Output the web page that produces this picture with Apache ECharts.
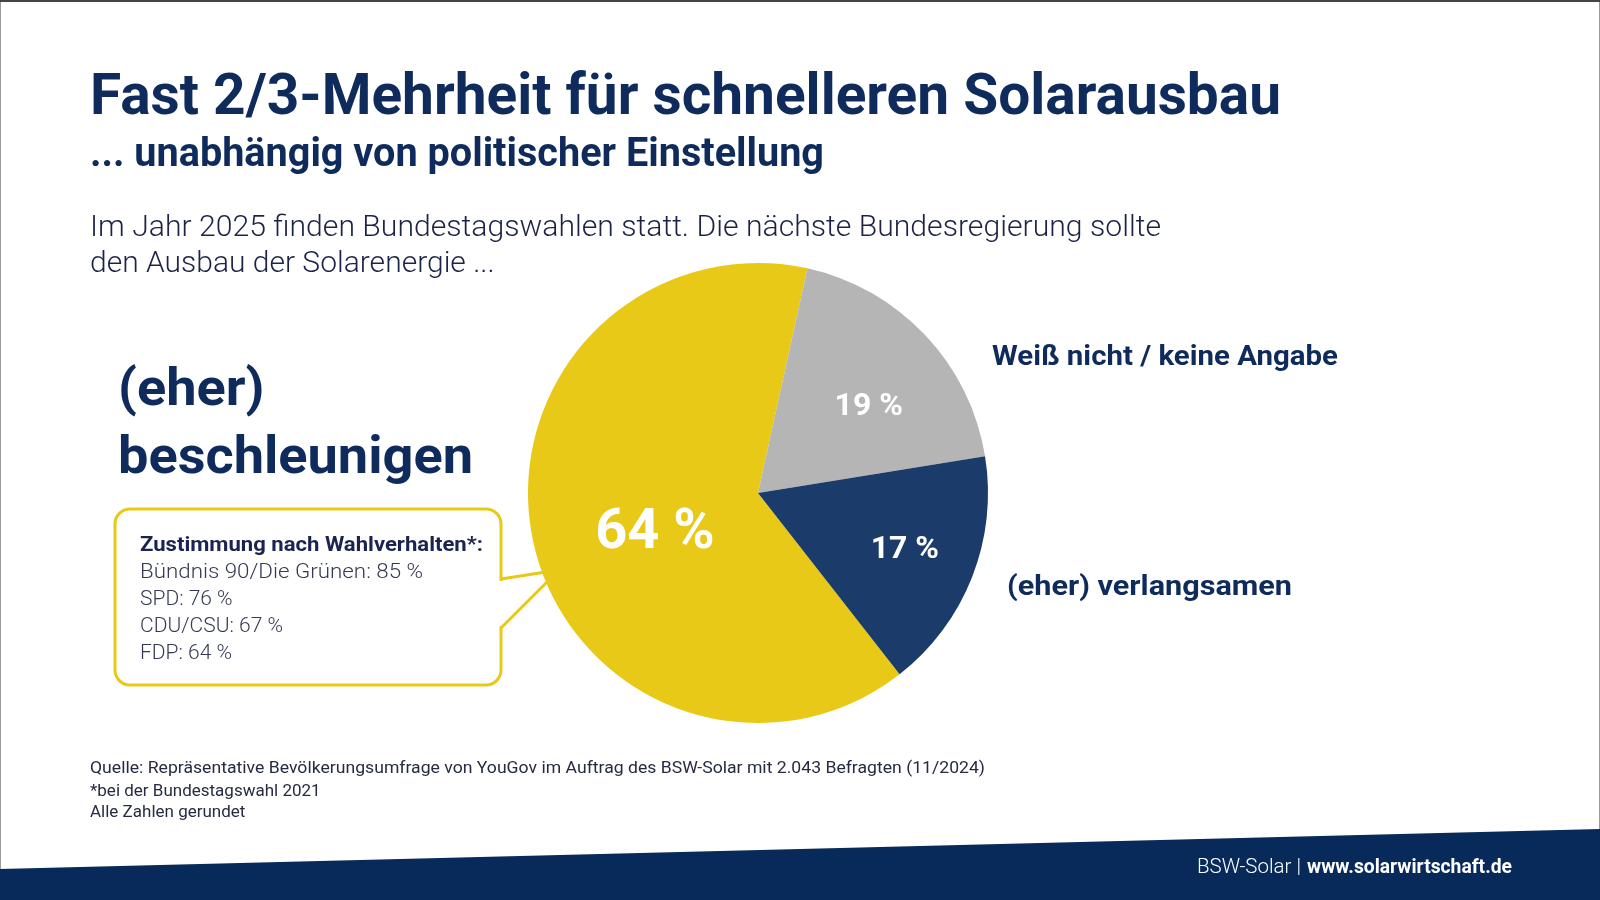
<!DOCTYPE html>
<html>
<head>
<meta charset="utf-8">
<title>Fast 2/3-Mehrheit für schnelleren Solarausbau</title>
<script src="https://cdn.jsdelivr.net/npm/echarts@6/dist/echarts.min.js"></script>
<style>
html, body { margin: 0; padding: 0; background: #fff; }
#main { width: 1600px; height: 900px; }
</style>
</head>
<body>
<div id="main"></div>
<script>
// Daten
var categories = ['(eher) beschleunigen', 'Weiß nicht / keine Angabe', '(eher) verlangsamen'];
var values = [64, 19, 17];
var parties = ['Bündnis 90/Die Grünen', 'SPD', 'CDU/CSU', 'FDP'];
var partyValues = [85, 76, 67, 64];

var NAVY = '#0f2b5c';
var FONT = 'Roboto';
var colors = ['#e8c917', '#b5b5b5', '#1b3c6b'];

// Text auf eine Zielbreite bringen (DIN ist schmaler als Roboto)
var ctx = document.createElement('canvas').getContext('2d');
function fit(text, size, weight, width) {
    ctx.font = weight + ' ' + size + 'px ' + FONT;
    var w = 0;
    text.split('\n').forEach(function (t) { w = Math.max(w, ctx.measureText(t).width); });
    return width / w;
}
function txt(x, y, text, size, weight, color, width, extra) {
    var style = {
        text: text, fill: color, fontSize: size, fontWeight: weight, fontFamily: FONT,
        textAlign: 'left', align: 'left', textVerticalAlign: 'middle', verticalAlign: 'middle'
    };
    if (extra) for (var k in extra) style[k] = extra[k];
    return { type: 'text', x: x, y: y, scaleX: width ? fit(text, size, weight, width) : 1, style: style };
}

var myChart = echarts.init(document.getElementById('main'));

var labelOffsets = [[12, 15], [25, -5], [37, 14]];
var labelSizes = [56, 32, 32];

var option = {
    backgroundColor: '#fff',
    animation: false,
    textStyle: { fontFamily: FONT },
    series: [{
        type: 'pie',
        center: [758, 493],
        radius: [0, 230],
        startAngle: -52,
        clockwise: true,
        silent: true,
        itemStyle: { borderWidth: 0 },
        label: {
            position: 'inside',
            formatter: '{c} %',
            color: '#fff',
            fontWeight: 'bold',
            fontFamily: FONT
        },
        labelLine: { show: false },
        emphasis: { disabled: true },
        data: categories.map(function (c, i) {
            return {
                name: c,
                value: values[i],
                itemStyle: { color: colors[i] },
                label: { fontSize: labelSizes[i], offset: labelOffsets[i] }
            };
        })
    }],
    graphic: [
        // Rahmen
        { type: 'rect', shape: { x: 0.5, y: 0.5, width: 1599, height: 899 }, style: { fill: null, stroke: '#9a9a9a', lineWidth: 1 } },
        { type: 'line', shape: { x1: 0, y1: 1, x2: 1600, y2: 1 }, style: { stroke: '#444', lineWidth: 2 } },
        // Fußband
        { type: 'polygon', shape: { points: [[0, 869], [1600, 829], [1600, 900], [0, 900]] }, style: { fill: '#072a5a' } },

        txt(90, 99, 'Fast 2/3-Mehrheit für schnelleren Solarausbau', 58, 'bold', NAVY, 1191),
        txt(90, 156, '... unabhängig von politischer Einstellung', 40, 'bold', NAVY, 734),
        txt(90, 228, 'Im Jahr 2025 finden Bundestagswahlen statt. Die nächste Bundesregierung sollte', 30, 300, '#1c2446', 1071),
        txt(90, 264, 'den Ausbau der Solarenergie ...', 30, 300, '#1c2446', 0),

        // Kategorien
        txt(118, 426, categories[0].replace(' ', '\n'), 52, 'bold', NAVY, 355, { lineHeight: 68 }),
        txt(992, 358, categories[1], 28, 'bold', NAVY, 346),
        txt(1007, 588, categories[2], 28, 'bold', NAVY, 285),

        // Sprechblase
        { type: 'rect', shape: { x: 115, y: 509, width: 386, height: 176, r: 15 }, style: { fill: '#fff', stroke: '#e8c917', lineWidth: 3 } },
        { type: 'polygon', shape: { points: [[497, 581], [503, 581], [557, 571], [503, 626], [497, 626]] }, style: { fill: '#fff' } },
        { type: 'polyline', shape: { points: [[501, 579], [559, 570], [501, 628]] }, style: { fill: null, stroke: '#e8c917', lineWidth: 3 } },
        txt(140, 546, 'Zustimmung nach Wahlverhalten*:', 21, 'bold', '#1b2450', 343),
        txt(140, 573, parties[0] + ': ' + partyValues[0] + ' %', 21, 300, '#353a52', 283),
        txt(140, 600, parties[1] + ': ' + partyValues[1] + ' %', 21, 300, '#353a52', 0),
        txt(140, 627, parties[2] + ': ' + partyValues[2] + ' %', 21, 300, '#353a52', 0),
        txt(140, 654, parties[3] + ': ' + partyValues[3] + ' %', 21, 300, '#353a52', 0),

        // Quelle
        txt(90, 769, 'Quelle: Repräsentative Bevölkerungsumfrage von YouGov im Auftrag des BSW-Solar mit 2.043 Befragten (11/2024)', 17, 'normal', '#262b42', 895),
        txt(90, 792, '*bei der Bundestagswahl 2021', 17, 'normal', '#262b42', 0),
        txt(90, 813, 'Alle Zahlen gerundet', 17, 'normal', '#262b42', 0),

        // Fuß
        txt(1197, 868, 'BSW-Solar |', 20, 300, '#fff', 104),
        txt(1307, 868, 'www.solarwirtschaft.de', 20, 'bold', '#fff', 205)
    ]
};

myChart.setOption(option);
</script>
</body>
</html>
